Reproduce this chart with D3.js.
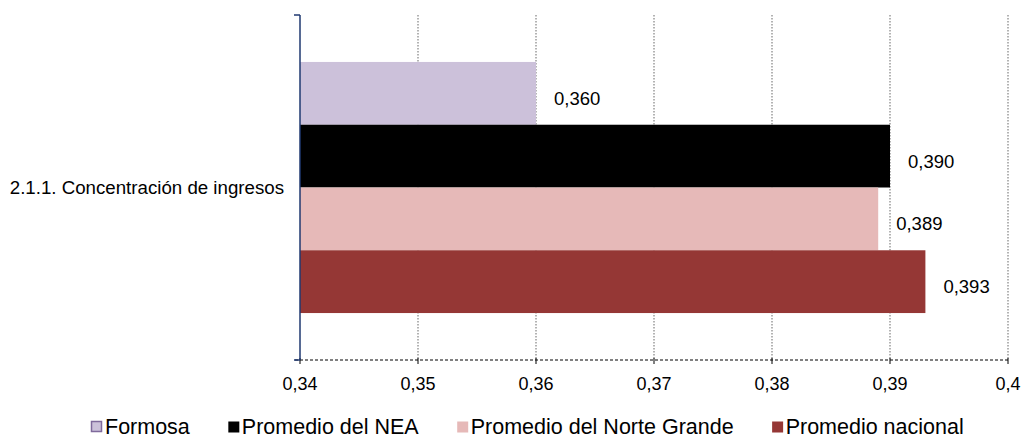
<!DOCTYPE html>
<html>
<head>
<meta charset="utf-8">
<script src="https://cdn.jsdelivr.net/npm/d3@7"></script>
<style>
  html, body { margin: 0; padding: 0; background: #fff; }
  svg { display: block; font-family: "Liberation Sans", Arial, sans-serif; }
</style>
</head>
<body>
<div id="chart"></div>
<script>
const categories = ['2.1.1. Concentración de ingresos'];
const seriesNames = ['Formosa', 'Promedio del NEA', 'Promedio del Norte Grande', 'Promedio nacional'];
const seriesValues = [0.360, 0.390, 0.389, 0.393];
const valueLabels = ['0,360', '0,390', '0,389', '0,393'];
const tickValues = [0.34, 0.35, 0.36, 0.37, 0.38, 0.39, 0.40];
const tickLabels = ['0,34', '0,35', '0,36', '0,37', '0,38', '0,39', '0,4'];

const COLORS = ['#ccc1da', '#000000', '#e6b9b8', '#953735'];
const STROKES = ['#7f6a9c', null, null, null];

const width = 1021;
const height = 438;
const plot = { left: 300, right: 1008, top: 15, bottom: 360 };

const svg = d3.select('#chart').append('svg')
  .attr('width', width)
  .attr('height', height);

const x = d3.scaleLinear().domain([0.34, 0.40]).range([plot.left, plot.right]);
const y0 = d3.scaleBand().domain(categories).range([plot.top, plot.bottom])
  .paddingInner(0).paddingOuter(0.187);
const y1 = d3.scaleBand().domain(seriesNames).range([0, y0.bandwidth()]);

// dotted gridlines
svg.append('g')
  .selectAll('line')
  .data(tickValues.slice(1))
  .join('line')
  .attr('x1', (d) => x(d)).attr('x2', (d) => x(d))
  .attr('y1', plot.top).attr('y2', plot.bottom)
  .attr('stroke', '#9a9a9a')
  .attr('stroke-width', 1.5)
  .attr('stroke-dasharray', '1.5,1.5');

// bars
const rows = seriesNames.map((name, i) => ({ name, value: seriesValues[i], label: valueLabels[i], i }));
const g = svg.append('g').attr('transform', `translate(0,${y0(categories[0])})`);

g.selectAll('rect')
  .data(rows)
  .join('rect')
  .attr('x', x(0.34))
  .attr('y', (d) => y1(d.name))
  .attr('width', (d) => x(d.value) - x(0.34))
  .attr('height', y1.bandwidth())
  .attr('fill', (d) => COLORS[d.i]);

g.selectAll('text.val')
  .data(rows)
  .join('text')
  .attr('class', 'val')
  .attr('x', (d) => x(d.value) + 18)
  .attr('y', (d) => y1(d.name) + y1.bandwidth() / 2 + 11.5)
  .attr('font-size', 18.5)
  .attr('fill', '#000')
  .text((d) => d.label);

// bottom axis (dashed)
const xAxis = svg.append('g').attr('transform', `translate(0,${plot.bottom})`);
xAxis.append('line')
  .attr('x1', plot.left - 5).attr('x2', plot.right)
  .attr('stroke', '#000')
  .attr('stroke-dasharray', '3,2');
xAxis.selectAll('line.tick')
  .data(tickValues)
  .join('line')
  .attr('class', 'tick')
  .attr('x1', (d) => x(d)).attr('x2', (d) => x(d))
  .attr('y1', -2).attr('y2', 4)
  .attr('stroke', '#000');
xAxis.selectAll('text')
  .data(tickValues)
  .join('text')
  .attr('x', (d) => x(d))
  .attr('y', 30)
  .attr('text-anchor', 'middle')
  .attr('font-size', 18)
  .attr('fill', '#000')
  .text((d, i) => tickLabels[i]);

// left axis
const yAxis = svg.append('g');
yAxis.append('line')
  .attr('x1', plot.left).attr('x2', plot.left)
  .attr('y1', plot.top).attr('y2', plot.bottom)
  .attr('stroke', '#1f3870')
  .attr('stroke-width', 1.5);
yAxis.selectAll('line.tick')
  .data([plot.top, plot.bottom])
  .join('line')
  .attr('class', 'tick')
  .attr('x1', plot.left - 6).attr('x2', plot.left)
  .attr('y1', (d) => d).attr('y2', (d) => d)
  .attr('stroke', '#1f3870')
  .attr('stroke-width', 1.5);
yAxis.selectAll('text')
  .data(categories)
  .join('text')
  .attr('x', 284)
  .attr('y', (d) => y0(d) + y0.bandwidth() / 2 + 6.5)
  .attr('text-anchor', 'end')
  .attr('font-size', 18.7)
  .attr('fill', '#000')
  .text((d) => d);

// legend
const legend = svg.append('g').attr('transform', 'translate(91,0)');
let offset = 0;
seriesNames.forEach((name, i) => {
  const item = legend.append('g').attr('transform', `translate(${offset},0)`);
  item.append('rect')
    .attr('x', 0.5).attr('y', 421.5)
    .attr('width', STROKES[i] ? 10 : 11).attr('height', STROKES[i] ? 10 : 11)
    .attr('fill', COLORS[i])
    .attr('stroke', STROKES[i] || 'none')
    .attr('stroke-width', STROKES[i] ? 1.5 : 0);
  const t = item.append('text')
    .attr('x', 14)
    .attr('y', 434)
    .attr('font-size', 21.5)
    .attr('fill', '#000')
    .text(name);
  offset += 14 + t.node().getComputedTextLength() + 38;
});
</script>
</body>
</html>
